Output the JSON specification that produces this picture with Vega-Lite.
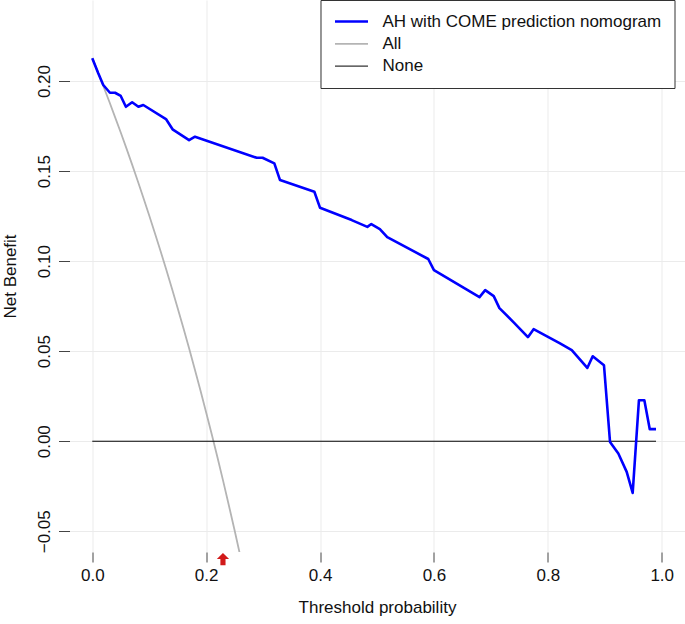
{
  "$schema": "https://vega.github.io/schema/vega-lite/v6.json",
  "width": 615,
  "height": 552,
  "autosize": {"type": "none"},
  "padding": {"left": 69.5, "top": 0, "right": 0, "bottom": 72},
  "background": "white",
  "config": {
    "font": "Liberation Sans",
    "view": {"stroke": null},
    "axis": {
      "domain": false,
      "grid": true,
      "gridColor": "#ebebeb",
      "gridWidth": 1,
      "tickColor": "#444444",
      "tickWidth": 1,
      "labelFont": "Liberation Sans",
      "labelFontSize": 17,
      "labelColor": "#111111",
      "titleFont": "Liberation Sans",
      "titleFontSize": 17,
      "titleFontWeight": "normal",
      "titleColor": "#111111"
    },
    "legend": {
      "labelFont": "Liberation Sans",
      "labelFontSize": 17,
      "labelColor": "#111111"
    }
  },
  "datasets": {
    "curves": [
      {"series": "AH with COME prediction nomogram", "threshold": 0, "nb": 0.2126},
      {"series": "AH with COME prediction nomogram", "threshold": 0.0105, "nb": 0.2043},
      {"series": "AH with COME prediction nomogram", "threshold": 0.0193, "nb": 0.1978},
      {"series": "AH with COME prediction nomogram", "threshold": 0.031, "nb": 0.1935},
      {"series": "AH with COME prediction nomogram", "threshold": 0.04, "nb": 0.1935},
      {"series": "AH with COME prediction nomogram", "threshold": 0.05, "nb": 0.1917},
      {"series": "AH with COME prediction nomogram", "threshold": 0.059, "nb": 0.1857},
      {"series": "AH with COME prediction nomogram", "threshold": 0.07, "nb": 0.1882},
      {"series": "AH with COME prediction nomogram", "threshold": 0.081, "nb": 0.1857},
      {"series": "AH with COME prediction nomogram", "threshold": 0.0896, "nb": 0.1867},
      {"series": "AH with COME prediction nomogram", "threshold": 0.1294, "nb": 0.1789},
      {"series": "AH with COME prediction nomogram", "threshold": 0.141, "nb": 0.1732},
      {"series": "AH with COME prediction nomogram", "threshold": 0.17, "nb": 0.1672},
      {"series": "AH with COME prediction nomogram", "threshold": 0.1804, "nb": 0.1691},
      {"series": "AH with COME prediction nomogram", "threshold": 0.2887, "nb": 0.1574},
      {"series": "AH with COME prediction nomogram", "threshold": 0.299, "nb": 0.1574},
      {"series": "AH with COME prediction nomogram", "threshold": 0.3197, "nb": 0.1543},
      {"series": "AH with COME prediction nomogram", "threshold": 0.3297, "nb": 0.145},
      {"series": "AH with COME prediction nomogram", "threshold": 0.39, "nb": 0.1385},
      {"series": "AH with COME prediction nomogram", "threshold": 0.4, "nb": 0.1296},
      {"series": "AH with COME prediction nomogram", "threshold": 0.4556, "nb": 0.1228},
      {"series": "AH with COME prediction nomogram", "threshold": 0.483, "nb": 0.119},
      {"series": "AH with COME prediction nomogram", "threshold": 0.49, "nb": 0.1206},
      {"series": "AH with COME prediction nomogram", "threshold": 0.505, "nb": 0.1178},
      {"series": "AH with COME prediction nomogram", "threshold": 0.518, "nb": 0.1133},
      {"series": "AH with COME prediction nomogram", "threshold": 0.59, "nb": 0.1012},
      {"series": "AH with COME prediction nomogram", "threshold": 0.6, "nb": 0.095},
      {"series": "AH with COME prediction nomogram", "threshold": 0.68, "nb": 0.08},
      {"series": "AH with COME prediction nomogram", "threshold": 0.69, "nb": 0.0839},
      {"series": "AH with COME prediction nomogram", "threshold": 0.705, "nb": 0.0806},
      {"series": "AH with COME prediction nomogram", "threshold": 0.715, "nb": 0.0739},
      {"series": "AH with COME prediction nomogram", "threshold": 0.74, "nb": 0.066},
      {"series": "AH with COME prediction nomogram", "threshold": 0.765, "nb": 0.0578},
      {"series": "AH with COME prediction nomogram", "threshold": 0.775, "nb": 0.0622},
      {"series": "AH with COME prediction nomogram", "threshold": 0.8214, "nb": 0.0543},
      {"series": "AH with COME prediction nomogram", "threshold": 0.842, "nb": 0.0506},
      {"series": "AH with COME prediction nomogram", "threshold": 0.8693, "nb": 0.0407},
      {"series": "AH with COME prediction nomogram", "threshold": 0.8788, "nb": 0.0472},
      {"series": "AH with COME prediction nomogram", "threshold": 0.8986, "nb": 0.0422},
      {"series": "AH with COME prediction nomogram", "threshold": 0.9092, "nb": -0.0004},
      {"series": "AH with COME prediction nomogram", "threshold": 0.9238, "nb": -0.0068},
      {"series": "AH with COME prediction nomogram", "threshold": 0.9385, "nb": -0.017},
      {"series": "AH with COME prediction nomogram", "threshold": 0.949, "nb": -0.0287},
      {"series": "AH with COME prediction nomogram", "threshold": 0.96, "nb": 0.0228},
      {"series": "AH with COME prediction nomogram", "threshold": 0.9695, "nb": 0.0228},
      {"series": "AH with COME prediction nomogram", "threshold": 0.979, "nb": 0.0067},
      {"series": "AH with COME prediction nomogram", "threshold": 0.99, "nb": 0.0067},
      {"series": "All", "threshold": 0, "nb": 0.2128},
      {"series": "All", "threshold": 0.01, "nb": 0.2048},
      {"series": "All", "threshold": 0.02, "nb": 0.1967},
      {"series": "All", "threshold": 0.03, "nb": 0.1885},
      {"series": "All", "threshold": 0.04, "nb": 0.18},
      {"series": "All", "threshold": 0.05, "nb": 0.1714},
      {"series": "All", "threshold": 0.06, "nb": 0.1626},
      {"series": "All", "threshold": 0.07, "nb": 0.1536},
      {"series": "All", "threshold": 0.08, "nb": 0.1444},
      {"series": "All", "threshold": 0.09, "nb": 0.1349},
      {"series": "All", "threshold": 0.1, "nb": 0.1253},
      {"series": "All", "threshold": 0.11, "nb": 0.1155},
      {"series": "All", "threshold": 0.12, "nb": 0.1055},
      {"series": "All", "threshold": 0.13, "nb": 0.0952},
      {"series": "All", "threshold": 0.14, "nb": 0.0847},
      {"series": "All", "threshold": 0.15, "nb": 0.0739},
      {"series": "All", "threshold": 0.16, "nb": 0.0629},
      {"series": "All", "threshold": 0.17, "nb": 0.0516},
      {"series": "All", "threshold": 0.18, "nb": 0.04},
      {"series": "All", "threshold": 0.19, "nb": 0.0282},
      {"series": "All", "threshold": 0.2, "nb": 0.016},
      {"series": "All", "threshold": 0.21, "nb": 0.0036},
      {"series": "All", "threshold": 0.22, "nb": -0.0092},
      {"series": "All", "threshold": 0.23, "nb": -0.0223},
      {"series": "All", "threshold": 0.24, "nb": -0.0358},
      {"series": "All", "threshold": 0.25, "nb": -0.0496},
      {"series": "All", "threshold": 0.26, "nb": -0.0638},
      {"series": "All", "threshold": 0.27, "nb": -0.0784},
      {"series": "None", "threshold": 0, "nb": 0},
      {"series": "None", "threshold": 0.99, "nb": 0}
    ],
    "marker": [{"threshold": 0.2295, "nb": -0.0654}]
  },
  "encoding": {
    "x": {
      "field": "threshold", "type": "quantitative",
      "scale": {"domain": [-0.04, 1.04], "nice": false, "zero": false},
      "axis": {
        "values": [0, 0.2, 0.4, 0.6, 0.8, 1.0], "format": ".1f",
        "title": "Threshold probability",
        "tickSize": 10, "labelPadding": 5, "titlePadding": 16
      }
    },
    "y": {
      "field": "nb", "type": "quantitative",
      "scale": {"domain": [-0.0615, 0.245], "nice": false, "zero": false},
      "axis": {
        "values": [-0.05, 0, 0.05, 0.1, 0.15, 0.2], "format": ".2f",
        "title": "Net Benefit",
        "labelAngle": 270, "labelAlign": "center", "labelBaseline": "bottom",
        "tickSize": 11, "labelPadding": 5, "titlePadding": 16
      }
    }
  },
  "layer": [
    {
      "data": {"name": "curves"},
      "transform": [{"filter": "datum.series !== 'AH with COME prediction nomogram'"}],
      "mark": {"type": "line", "clip": true, "strokeCap": "butt", "strokeJoin": "round"},
      "encoding": {
        "color": {
          "field": "series", "type": "nominal",
          "scale": {"domain": ["AH with COME prediction nomogram", "All", "None"], "range": ["#0000ff", "#b4b4b4", "#000000"]},
          "legend": {
            "title": null, "orient": "none", "legendX": 251, "legendY": 0,
            "symbolType": "stroke", "symbolSize": 1089, "clipHeight": 17,
            "labelOffset": 13, "rowPadding": 4.3, "padding": 13, "labelLimit": 0,
            "strokeColor": "#333333", "fillColor": "white"
          }
        },
        "strokeWidth": {
          "field": "series", "type": "nominal",
          "scale": {"domain": ["AH with COME prediction nomogram", "All", "None"], "range": [2.6, 1, 1]},
          "legend": {
            "title": null, "orient": "none", "legendX": 251, "legendY": 0,
            "symbolType": "stroke", "symbolSize": 1089, "clipHeight": 17,
            "labelOffset": 13, "rowPadding": 4.3, "padding": 13, "labelLimit": 0,
            "strokeColor": "#333333", "fillColor": "white"
          }
        },
        "order": {"field": "threshold", "type": "quantitative"}
      }
    },
    {
      "data": {"name": "curves"},
      "transform": [{"filter": "datum.series === 'AH with COME prediction nomogram'"}],
      "mark": {"type": "line", "clip": true, "strokeCap": "butt", "strokeJoin": "round"},
      "encoding": {
        "color": {"field": "series", "type": "nominal"},
        "strokeWidth": {"field": "series", "type": "nominal"},
        "order": {"field": "threshold", "type": "quantitative"}
      }
    },
    {
      "mark": {"type": "rule", "color": "#444444", "strokeWidth": 1},
      "encoding": {
        "x": {"datum": -0.04, "type": "quantitative"},
        "y": {"datum": -0.05, "type": "quantitative"},
        "y2": {"datum": 0.2}
      }
    },
    {
      "mark": {"type": "rule", "color": "#444444", "strokeWidth": 1},
      "encoding": {
        "x": {"datum": 0, "type": "quantitative"},
        "x2": {"datum": 1},
        "y": {"datum": -0.0615, "type": "quantitative"}
      }
    },
    {
      "data": {"name": "marker"},
      "mark": {"type": "point", "shape": "M0,-1L1,0L0.42,0L0.42,1L-0.42,1L-0.42,0L-1,0Z", "filled": true, "color": "#d11a1a", "size": 150, "opacity": 1, "strokeWidth": 0},
      "encoding": {
        "x": {"field": "threshold", "type": "quantitative"},
        "y": {"field": "nb", "type": "quantitative"}
      }
    }
  ]
}
